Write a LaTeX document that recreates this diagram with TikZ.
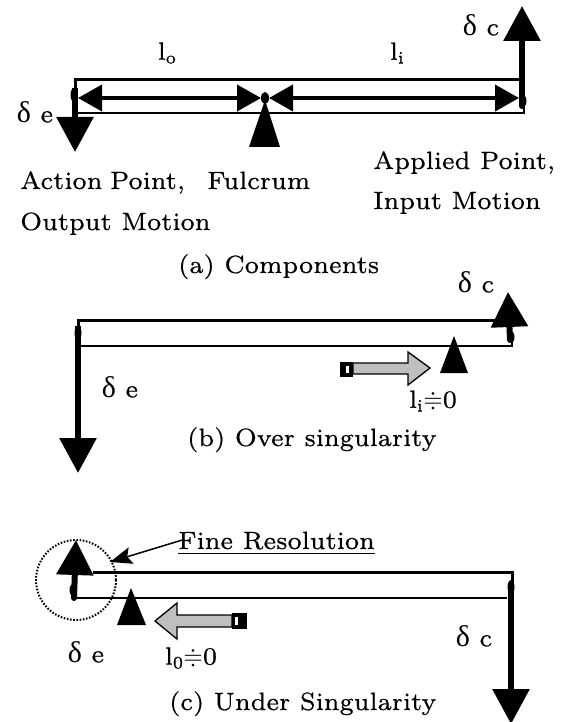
\documentclass[tikz,border=0pt]{standalone}
\usepackage{fontspec}
\usepackage{amssymb}
\newfontfamily\grk{Liberation Serif}
\newfontfamily\lbfont{lmroman7-regular}[Extension=.otf, FakeBold=0.5]
\newcommand{\dlt}{{\grk\fontsize{30}{30}\selectfont δ}}
\usetikzlibrary{arrows.meta}

\tikzset{
  lbl/.style={inner sep=0pt, font=\lbfont\fontsize{25}{30}\selectfont},
  beam/.style={line width=3pt},
  beamlow/.style={line width=2.4pt},
  motion/.style={line width=6pt, -{Triangle[length=35pt,width=36pt]}},
  dimarrow/.style={line width=4pt,
    {Triangle[length=24pt,width=26pt]}-{Triangle[length=24pt,width=26pt]}},
  fulcrumtri/.style={fill=black},
  joint/.style={fill=black},
  slider/.style={fill=black!25, draw=black, line width=1.3pt},
  pointer/.style={line width=1.5pt, -{Stealth[length=22pt,width=17pt,inset=4pt]}},
  ring/.style={line width=2pt, dash pattern=on 1.6pt off 1.6pt},
}

\begin{document}
\begin{tikzpicture}[x=1pt,y=-1pt]
\useasboundingbox (0,0) rectangle (562,722);

% ---------------- (a) Components ----------------
\coordinate (aTL) at (75,80);
\coordinate (aTR) at (522,80);
\coordinate (aBL) at (78,113);
\coordinate (aBR) at (524,113);
\coordinate (aPiv) at (265,98);
\draw[beam] (75,90) -- (aTL) -- (aTR);
\draw[beamlow] (aBL) -- (aBR) -- (524,104);
\draw[motion] (75,88) -- (75,152);
\draw[motion, line cap=round] (522,106) -- (522,6);
\fill[joint] (74,95) ellipse (3.5 and 7);
\fill[joint] (523,101) ellipse (3.5 and 6);
\draw[dimarrow] (78,98) -- (261,98);
\draw[dimarrow] (269,98) -- (519,98);
\fill[joint] (aPiv) ellipse (4 and 6);
\fill[fulcrumtri] (265,100) -- (280,147) -- (249,147) -- cycle;

\node[lbl] (lo) at (167,53) {l\textsubscript{o}};
\node[lbl] (li) at (397,53) {l\textsubscript{i}};
\node[lbl] (dca) at (481,25) {\dlt\ c};
\node[lbl] (dea) at (35,112) {\dlt\ e};
\node[lbl, anchor=base west] (act) at (20,189) {Action\hspace{-2pt} Point,};
\node[lbl, anchor=base west] (ful) at (207,189) {Fulcrum};
\node[lbl, anchor=base west] (outm) at (20,230) {Output Motion};
\node[lbl, anchor=base west] (app) at (373,169) {Applied Point,};
\node[lbl, anchor=base west] (inm) at (373,209) {Input Motion};
\node[lbl, anchor=base west] (capa) at (178,273) {(a) Components};

% ---------------- (b) Over singularity ----------------
\draw[beam] (78,332) -- (78,320) -- (500,320);
\draw[beamlow] (81,346) -- (512,346) -- (512,332);
\draw[motion] (78,326) -- (78,473);
\fill[joint] (78,333) ellipse (3.5 and 7);
\draw[motion, line cap=round] (510,340) -- (508,292);
\fill[joint] (511,337) ellipse (3.5 and 6);
\fill[fulcrumtri] (454,336) -- (468,373) -- (440,373) -- cycle;
% sliding fulcrum
\draw[slider] (353,363) -- (408,363) -- (408,352) -- (430,368) -- (408,385)
  -- (408,374) -- (353,374) -- cycle;
\fill[black] (340,362) rectangle (353,377);
\fill[white] (346,366) rectangle (349,373);

\node[lbl] (deb) at (120,387) {\dlt\ e};
\node[lbl] (dcb) at (476,282) {\dlt\ c};
\node[lbl] (lib) at (433,401) {l\textsubscript{i}$\doteqdot$0};
\node[lbl, anchor=base west] (capb) at (187,446) {(b) Over singularity};

% ---------------- (c) Under Singularity ----------------
\draw[ring] (76,580) circle (40);
\draw[beam] (93,572) -- (512,572) -- (512,584);
\draw[beamlow] (74,598) -- (507,598);
\draw[motion, line cap=round] (74,598) -- (76,540);
\fill[joint] (73,590) ellipse (3.5 and 6);
\draw[motion] (511,584) -- (511,724);
\fill[joint] (511,587) ellipse (3.5 and 7);
\fill[fulcrumtri] (131,588) -- (146,625) -- (117,625) -- cycle;
% sliding fulcrum
\draw[slider] (232,615) -- (177,615) -- (177,603) -- (155,621) -- (177,639)
  -- (177,627) -- (232,627) -- cycle;
\fill[black] (232,613) rectangle (247,629);
\fill[white] (235,617) rectangle (238,625);

\node[lbl, anchor=base west] (fine) at (178,549) {\underline{Fine Resolution}};
\coordinate (ringpt) at (110,562);
\draw[pointer] (fine.west) ++(4,-3) -- (ringpt);
\node[lbl] (dec) at (86,652) {\dlt\ e};
\node[lbl] (loc) at (191,658) {l\textsubscript{0}$\doteqdot$0};
\node[lbl] (dcc) at (474,636) {\dlt\ c};
\node[lbl, anchor=base west] (capc) at (169,710) {(c) Under Singularity};
\end{tikzpicture}
\end{document}
